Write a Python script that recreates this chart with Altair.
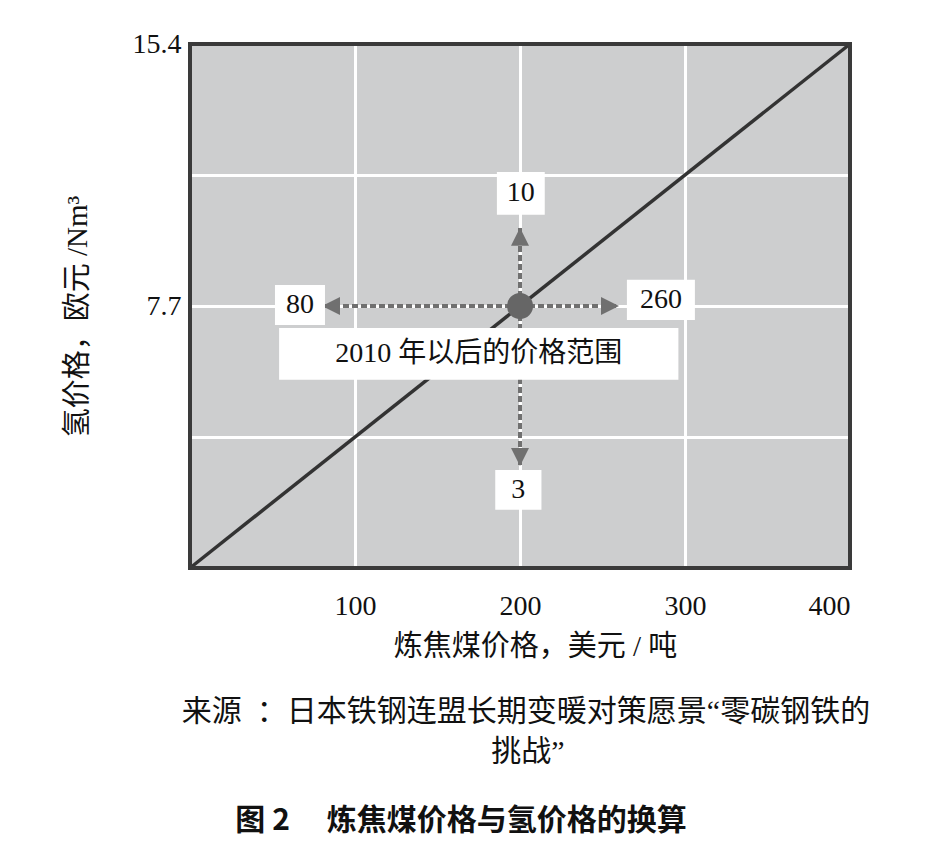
import altair as alt
import pandas as pd

# ---- data ----
coal_ticks = [0, 100, 200, 300, 400]          # 炼焦煤价格，美元/吨
h2_labels = [7.7, 15.4]                      # 氢价格，欧元/Nm3
h2_grid = [0, 3.85, 7.7, 11.55, 15.4]
line_coal = [0, 400]
line_h2 = [0, 15.4]
center_coal = 200
center_h2 = 7.7
coal_low, coal_high = 80, 260
h2_high, h2_low = 10, 3
range_label = "2010 年以后的价格范围"
x_title = "炼焦煤价格，美元 / 吨"
y_title = "氢价格，欧元 /Nm³"
source_1 = "来源\u2002：日本铁钢连盟长期变暖对策愿景“零碳钢铁的"
source_2 = "挑战”"
caption = "图 2\u3000 炼焦煤价格与氢价格的换算"

SERIF = "Liberation Serif, Noto Sans CJK SC"
SANS = "Noto Sans CJK SC"

xs = alt.Scale(domain=[0, 400], nice=False, zero=False)
ys = alt.Scale(domain=[0, 15.4], nice=False, zero=False)

xaxis = alt.Axis(values=coal_ticks, labelExpr="datum.value == 0 ? '' : datum.label",
                 grid=True, gridColor="white", gridWidth=3, gridOpacity=1,
                 ticks=False, domain=False, labelFont=SERIF, labelFontSize=28,
                 labelColor="#111", labelPadding=24, title=x_title, titleFont=SERIF,
                 titleFontSize=29, titleFontWeight="normal", titleColor="#111",
                 titlePadding=12, titleX=345)
yaxis = alt.Axis(values=h2_grid,
                 labelExpr="(datum.value == 7.7 || datum.value == 15.4) ? format(datum.value, '.1f') : ''",
                 grid=True, gridColor="white", gridWidth=3, gridOpacity=1,
                 ticks=False, domain=False, labelFont=SERIF, labelFontSize=28,
                 labelColor="#111", labelPadding=9, title=y_title, titleFont=SERIF,
                 titleFontSize=29, titleFontWeight="normal", titleColor="#111",
                 titlePadding=40, titleY=272)


def X(field="coal"):
    return alt.X(f"{field}:Q", scale=xs, axis=xaxis)


def Y(field="h2"):
    return alt.Y(f"{field}:Q", scale=ys, axis=yaxis)


df_line = pd.DataFrame({"coal": line_coal, "h2": line_h2})
df_frame = pd.DataFrame({"coal": [line_coal[0]], "coal2": [line_coal[1]],
                         "h2": [line_h2[0]], "h22": [line_h2[1]]})
df_rules = pd.DataFrame({
    "coal": [center_coal] * 4,
    "h2": [center_h2] * 4,
    "coal2": [coal_low, coal_high, center_coal, center_coal],
    "h22": [center_h2, center_h2, h2_high, h2_low],
})
df_heads = pd.DataFrame({
    "coal": [coal_low, coal_high, center_coal, center_coal],
    "h2": [center_h2, center_h2, h2_high, h2_low],
    "dir": ["left", "right", "up", "down"],
})
df_center = pd.DataFrame({"coal": [center_coal], "h2": [center_h2]})

# annotation boxes (in data units), text centred in each
boxes = pd.DataFrame({
    "text": [str(coal_low), str(coal_high), str(h2_high), str(h2_low), range_label],
    "coal": [51.5, 264.8, 186.0, 185.0, 54.0],
    "coal2": [81.8, 306.0, 215.0, 213.0, 296.0],
    "h2": [7.14, 7.29, 10.38, 1.71, 5.53],
    "h22": [8.32, 8.47, 11.64, 2.88, 7.05],
})
boxes["cx"] = (boxes["coal"] + boxes["coal2"]) / 2
boxes["cy"] = (boxes["h2"] + boxes["h22"]) / 2

frame = alt.Chart(df_frame).mark_rect(fillOpacity=0, stroke="#3a3a3a", strokeWidth=4).encode(
    x=X(), x2="coal2", y=Y(), y2="h22")

diag = alt.Chart(df_line).mark_line(color="#333333", strokeWidth=3.5).encode(x=X(), y=Y())

rules = alt.Chart(df_rules).mark_rule(color="#707070", strokeWidth=4, strokeDash=[6, 3]).encode(
    x=X(), x2="coal2", y=Y(), y2="h22")

heads = alt.Chart(df_heads).mark_point(filled=True, opacity=1, color="#707070", size=81).encode(
    x=X(), y=Y(),
    shape=alt.Shape("dir:N", legend=None, scale=alt.Scale(
        domain=["left", "right", "up", "down"],
        range=["M0,0L4,-2L4,2Z", "M0,0L-4,-2L-4,2Z",
               "M0,0L-2,4L2,4Z", "M0,0L-2,-4L2,-4Z"])))

dot = alt.Chart(df_center).mark_point(filled=True, opacity=1, color="#666666", size=680).encode(
    x=X(), y=Y())

box_rects = alt.Chart(boxes).mark_rect(color="white").encode(
    x=X(), x2="coal2", y=Y(), y2="h22")

box_text = alt.Chart(boxes).mark_text(font=SERIF, fontSize=28, color="#111", baseline="middle").encode(
    x=alt.X("cx:Q", scale=xs, axis=xaxis), y=alt.Y("cy:Q", scale=ys, axis=yaxis), text="text:N")

src1 = alt.Chart(pd.DataFrame({"t": [source_1]})).mark_text(
    font=SERIF, fontSize=30, color="#111", align="center", baseline="middle").encode(
    x=alt.value(336), y=alt.value(668), text="t:N")
src2 = alt.Chart(pd.DataFrame({"t": [source_2]})).mark_text(
    font=SERIF, fontSize=30, color="#111", align="center", baseline="middle").encode(
    x=alt.value(338), y=alt.value(708), text="t:N")
cap = alt.Chart(pd.DataFrame({"t": [caption]})).mark_text(
    font=SANS, fontSize=30, fontWeight="bold", color="#111", align="center", baseline="middle").encode(
    x=alt.value(271), y=alt.value(777), text="t:N")

chart = alt.layer(diag, rules, heads, dot, frame, box_rects, box_text, src1, src2, cap).properties(
    width=660, height=524, autosize="none", background="white",
    padding={"left": 182, "top": 36, "right": 80, "bottom": 275},
).configure_view(fill="#cdcecf", stroke=None)

chart.save("out.html", embed_options={"renderer": "svg", "actions": False})
